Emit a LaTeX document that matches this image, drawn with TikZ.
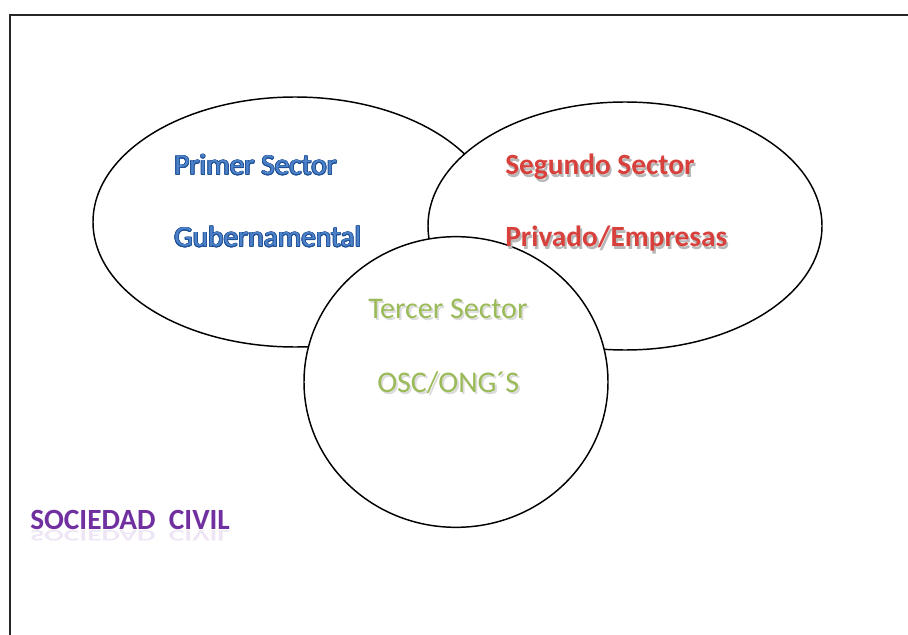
\documentclass[tikz,border=0pt]{standalone}
\usepackage{fontspec}
\setmainfont{Carlito}
\usepackage{contour}
\contourlength{0.55pt}
\usetikzlibrary{shapes.geometric}
\definecolor{blue}{RGB}{78,130,200}
\definecolor{darkblue}{RGB}{30,80,150}
\definecolor{red}{RGB}{216,64,60}
\definecolor{green}{RGB}{155,187,89}
\definecolor{purple}{RGB}{112,48,160}
% text with a soft shadow below right
\newcommand{\shadowed}[2][black!28]{\makebox[0pt][l]{\hspace{1.4pt}\raisebox{-1.6pt}{\textcolor{#1}{#2}}}#2}
% text with a faint mirror image under the baseline
\newcommand{\mirrored}[1]{\makebox[0pt][l]{\raisebox{-1pt}{\scalebox{1}[-0.55]{\textcolor{purple!12}{#1}}}}#1}
\tikzset{
  sector/.style={ellipse,draw,fill=white,line width=1.1pt,inner sep=0pt},
  label/.style={anchor=base west,inner sep=0pt,font=\fontsize{22}{26}\selectfont}
}

\begin{document}
\begin{tikzpicture}[x=0.75pt,y=-0.75pt]
  \useasboundingbox (0,0) rectangle (908,635);
  \clip (0,0) rectangle (908,635);
  \draw [line width=1.4pt,black!85] (10,15) rectangle (940,670);
  % the three sectors
  \node [sector,minimum width=303pt,minimum height=187.5pt] (gob) at (295,222) {};
  \node [sector,minimum width=295.5pt,minimum height=186pt] (emp) at (625,226) {};
  \node [sector,minimum width=228pt,minimum height=218pt] (osc) at (456,382) {};
  \node [label] (ps) at (174,175) {\contour{darkblue}{\textcolor{blue}{Primer Sector}}};
  \node [label] (gu) at (174,247) {\contour{darkblue}{\textcolor{blue}{Gubernamental}}};
  \node [label,text=red,font=\fontsize{22}{26}\selectfont\bfseries] (ss) at (505,175) {\shadowed{Segundo Sector}};
  \node [label,text=red,font=\fontsize{22}{26}\selectfont\bfseries] (pe) at (505,247) {\shadowed{Privado/Empresas}};
  \node [label,text=green,font=\fontsize{22.5}{26}\selectfont] (ts) at (368,318) {\shadowed[black!14]{Tercer Sector}};
  \node [label,text=green,font=\fontsize{22.5}{26}\selectfont] (on) at (377,392) {\shadowed[black!14]{OSC/ONG´S}};
  \node [label,text=purple,font=\fontsize{22}{26}\selectfont\bfseries] (sc) at (30,529) {\mirrored{SOCIEDAD~~CIVIL}};
\end{tikzpicture}
\end{document}
